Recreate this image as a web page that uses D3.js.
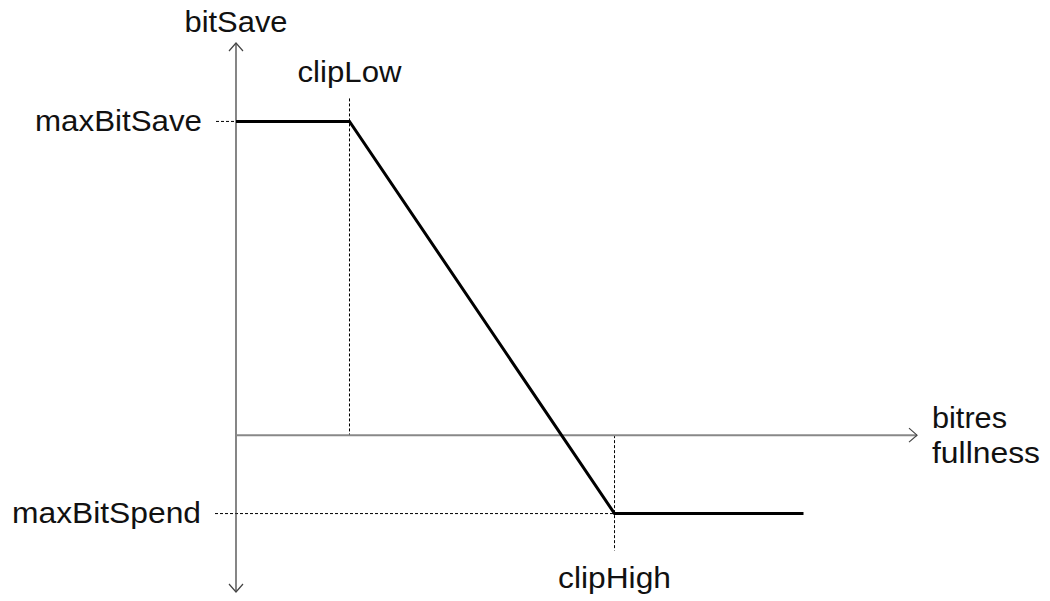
<!DOCTYPE html>
<html>
<head>
<meta charset="utf-8">
<script src="https://cdn.jsdelivr.net/npm/d3@7"></script>
<style>
  body { margin: 0; background: #fff; }
  text { font-family: "Liberation Sans", Arial, sans-serif; fill: #111; }
</style>
</head>
<body>
<svg></svg>
<script>
const width = 1050;
const height = 601;

// bit reservoir fullness (x) and bitSave (y), in chart units
const curveX = [0, 0.2, 0.667, 1.0];
const curveY = [1, 1, -0.25, -0.25];
const clipLow = 0.2;
const clipHigh = 0.667;
const maxBitSave = 1;
const maxBitSpend = -0.25;

const xDomain = [0, 1.2];
const yDomain = [-0.5, 1.25];

const svg = d3.select("svg")
  .attr("width", width)
  .attr("height", height);

const x = d3.scaleLinear().domain(xDomain).range([236, 917]);
const y = d3.scaleLinear().domain(yDomain).range([592, 43]);

const dotted = (x1, y1, x2, y2) => svg.append("line")
  .attr("x1", x1).attr("y1", y1).attr("x2", x2).attr("y2", y2)
  .attr("stroke", "#000")
  .attr("stroke-width", 1)
  .attr("stroke-dasharray", "3,2");

// guide lines
dotted(x(0) - 20, y(maxBitSave), x(0), y(maxBitSave));
dotted(x(0) - 21, y(maxBitSpend), x(clipHigh), y(maxBitSpend));
dotted(x(clipLow), y(maxBitSave) - 23, x(clipLow), y(0));
dotted(x(clipHigh), y(0), x(clipHigh), y(maxBitSpend) + 37);

// y axis, arrows at both ends
svg.append("line")
  .attr("x1", x(0)).attr("y1", y(yDomain[1]))
  .attr("x2", x(0)).attr("y2", y(yDomain[0]))
  .attr("stroke", "#444").attr("stroke-width", 1.3);

// x axis
svg.append("line")
  .attr("x1", x(0)).attr("y1", y(0))
  .attr("x2", x(xDomain[1])).attr("y2", y(0))
  .attr("stroke", "#888").attr("stroke-width", 2);

const arrow = (px, py, pts) => svg.append("path")
  .attr("d", d3.line()(pts.map(p => [px + p[0], py + p[1]])))
  .attr("fill", "none")
  .attr("stroke", "#444")
  .attr("stroke-width", 1.2);

arrow(x(0), y(yDomain[1]), [[-7, 8], [0, 0], [7, 8]]);
arrow(x(0), y(yDomain[0]), [[-7, -8], [0, 0], [7, -8]]);
arrow(x(xDomain[1]), y(0), [[-8, -7], [0, 0], [-8, 7]]);

// bitSave curve
svg.append("path")
  .datum(curveX.map((v, i) => [v, curveY[i]]))
  .attr("d", d3.line().x(d => x(d[0])).y(d => y(d[1])))
  .attr("fill", "none")
  .attr("stroke", "#000")
  .attr("stroke-width", 3)
  .attr("stroke-linejoin", "miter");

// labels
const labels = [
  { t: "bitSave", x: x(0), y: 32, w: 103, a: "middle" },
  { t: "clipLow", x: x(clipLow), y: 82, w: 104, a: "middle" },
  { t: "maxBitSave", x: 202, y: 131, w: 167, a: "end" },
  { t: "maxBitSpend", x: 201, y: 523, w: 189, a: "end" },
  { t: "clipHigh", x: x(clipHigh), y: 588, w: 113, a: "middle" },
  { t: "bitres", x: 932, y: 428, w: 75, a: "start" },
  { t: "fullness", x: 932, y: 463, w: 108, a: "start" }
];

svg.selectAll("text.lbl")
  .data(labels)
  .enter()
  .append("text")
  .attr("class", "lbl")
  .attr("x", d => d.x)
  .attr("y", d => d.y)
  .attr("text-anchor", d => d.a)
  .attr("font-size", 30)
  .attr("textLength", d => d.w)
  .attr("lengthAdjust", "spacingAndGlyphs")
  .text(d => d.t);
</script>
</body>
</html>
